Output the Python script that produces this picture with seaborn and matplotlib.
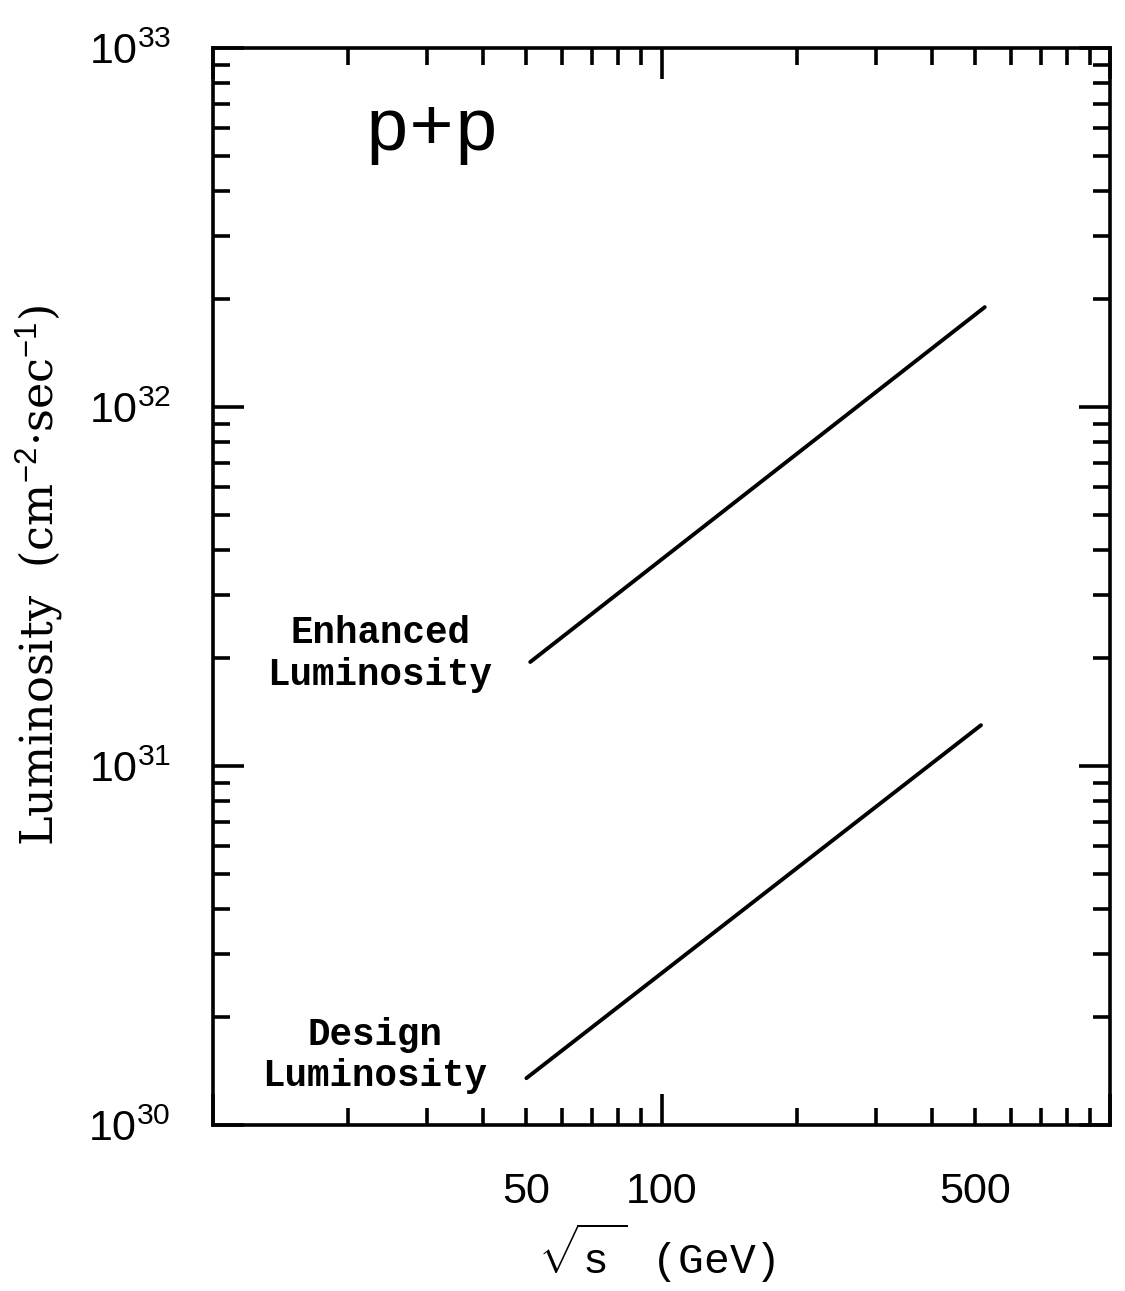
import numpy as np
import pandas as pd
import matplotlib
matplotlib.use("Agg")
import matplotlib.pyplot as plt
from matplotlib import font_manager
from matplotlib.ticker import FixedLocator, LogLocator, FuncFormatter, NullFormatter
import seaborn as sns

# ---- data ----
enhanced_sqrt_s = [51, 525]            # GeV
enhanced_lum = [1.95e31, 1.9e32]        # cm^-2 s^-1
design_sqrt_s = [50, 515]
design_lum = [1.35e30, 1.3e31]
series_names = ["Enhanced", "Design"]
x_tick_values = [50, 100, 500]
x_tick_labels = ["50", "100", "500"]
y_major_values = [1e30, 1e31, 1e32, 1e33]
y_tick_labels = [r"$10^{30}$", r"$10^{31}$", r"$10^{32}$", r"$10^{33}$"]

df = pd.concat([
    pd.DataFrame({"sqrt_s": enhanced_sqrt_s, "lum": enhanced_lum, "series": series_names[0]}),
    pd.DataFrame({"sqrt_s": design_sqrt_s, "lum": design_lum, "series": series_names[1]}),
])

sns.set_style("white")
avail = {f.name for f in font_manager.fontManager.ttflist}
sans_narrow = "Liberation Sans Narrow" if "Liberation Sans Narrow" in avail else "Liberation Sans"
mono = "Liberation Mono"
plt.rcParams["font.family"] = [sans_narrow, "DejaVu Sans"]
plt.rcParams["text.color"] = "black"
plt.rcParams["axes.labelcolor"] = "black"
plt.rcParams["mathtext.fontset"] = "custom"
plt.rcParams["mathtext.rm"] = sans_narrow
plt.rcParams["mathtext.it"] = sans_narrow
plt.rcParams["mathtext.tt"] = mono
plt.rcParams["mathtext.default"] = "rm"

fig = plt.figure(figsize=(11.25, 12.91), dpi=100)
ax = fig.add_axes([0.189, 0.1286, 0.798, 0.834])

sns.lineplot(data=df, x="sqrt_s", y="lum", hue="series", units="series", estimator=None,
             palette={"Enhanced": "black", "Design": "black"}, legend=False,
             linewidth=2.8, ax=ax)

ax.set_xscale("log")
ax.set_yscale("log")
ax.set_xlim(10, 1000)
ax.set_ylim(1e30, 1e33)

for s in ax.spines.values():
    s.set_linewidth(2.6)
    s.set_color("black")
    s.set_visible(True)

# x ticks
ax.xaxis.set_major_locator(FixedLocator([10, 100, 1000]))
ax.xaxis.set_minor_locator(LogLocator(base=10, subs=np.arange(2, 10)))
lab = dict(zip(x_tick_values, x_tick_labels))
def xfmt(v, pos):
    for k, t in lab.items():
        if abs(v - k) < 1e-6 * k:
            return t
    return ""
ax.xaxis.set_major_formatter(FuncFormatter(xfmt))
ax.xaxis.set_minor_formatter(FuncFormatter(xfmt))

# y ticks
ax.yaxis.set_major_locator(FixedLocator(y_major_values))
ax.set_yticklabels(y_tick_labels)
ax.yaxis.set_minor_locator(LogLocator(base=10, subs=np.arange(2, 10)))
ax.yaxis.set_minor_formatter(NullFormatter())

ax.tick_params(which="both", direction="in", top=True, right=True, left=True, bottom=True,
               colors="black", labelcolor="black", width=2.6, labelsize=31)
ax.tick_params(which="major", length=22)
ax.tick_params(which="minor", length=12)
ax.tick_params(axis="x", which="both", pad=34)
ax.tick_params(axis="y", which="both", pad=30)

ax.set_xlabel(r"$\sqrt{\mathtt{s}^{\,^{\,^{\,}}}}$ (GeV)", family=[mono, "DejaVu Sans"],
              fontsize=31, color="black")
ax.xaxis.set_label_coords(0.495, -0.09)
ax.set_ylabel("Luminosity  (cm$^{-2}$·sec$^{-1}$)", family=["DejaVu Serif"], fontsize=32,
              color="black")
ax.yaxis.set_label_coords(-0.163, 0.51)

ax.text(23.6, 2.05e31, "Enhanced\nLuminosity", family=mono, fontweight="bold",
        fontsize=27, ha="center", va="center", linespacing=1.2, color="black")
ax.text(23.0, 1.56e30, "Design\nLuminosity", family=mono, fontweight="bold",
        fontsize=27, ha="center", va="center", linespacing=1.2, color="black")
ax.text(30.8, 5.2e32, "p+p", family=mono, fontsize=54, ha="center", va="baseline",
        color="black")

fig.savefig("out.png", dpi=100, facecolor="white")
